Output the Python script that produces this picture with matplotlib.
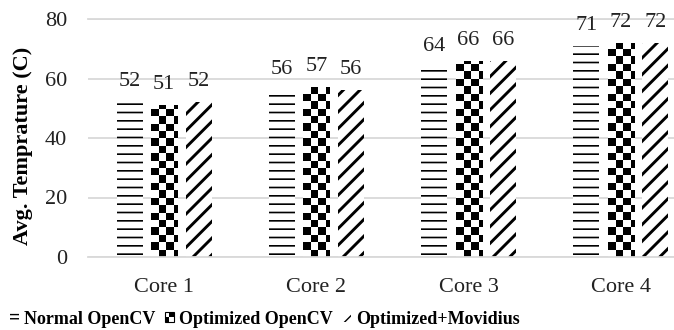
import math
import numpy as np
import matplotlib
matplotlib.use("Agg")
import matplotlib.pyplot as plt
from matplotlib.patches import Rectangle
from matplotlib.legend_handler import HandlerBase

# Data
categories = ["Core 1", "Core 2", "Core 3", "Core 4"]
normal_opencv = [52, 56, 64, 71]
optimized_opencv = [51, 57, 66, 72]
optimized_movidius = [52, 56, 66, 72]
series_names = ["Normal OpenCV", "Optimized OpenCV", "Optimized+Movidius"]
y_ticks = [0, 20, 40, 60, 80]

plt.rcParams["font.family"] = ["Liberation Serif", "DejaVu Serif"]

W, H = 674, 330
fig = plt.figure(figsize=(W / 100, H / 100), dpi=100)
ax = fig.add_axes([88 / W, 1 - 257 / H, (697 - 88) / W, (257 - 19) / H])
ax.set_xlim(-0.5, len(categories) - 0.5)
ax.set_ylim(0, 80)

x = np.arange(len(categories))
bw = 0.171
pitch = 0.226

# Normal OpenCV: horizontal lines
with plt.rc_context({"hatch.linewidth": 1.2}):
    b1 = ax.bar(x - pitch, normal_opencv, bw, facecolor="white",
                edgecolor="black", linewidth=0, hatch="--", zorder=2)

# Optimized OpenCV: checkerboard fill clipped to each bar
b2 = ax.bar(x, optimized_opencv, bw, facecolor="white",
            edgecolor="none", linewidth=0, zorder=2)
t0 = ax.transData.transform((0, 0))
px_x = ax.transData.transform((1, 0))[0] - t0[0]
px_y = ax.transData.transform((0, 1))[1] - t0[1]
cell = 7.4
cw, ch = cell / px_x, cell / px_y
for rect in b2:
    x0, w, h = rect.get_x(), rect.get_width(), rect.get_height()
    nc, nr = math.ceil(w / cw), math.ceil(h / ch)
    board = (np.add.outer(np.arange(nr), np.arange(nc)) % 2).astype(float)
    im = ax.imshow(board, cmap="gray_r", vmin=0, vmax=1, origin="lower",
                   extent=(x0, x0 + nc * cw, 0, nr * ch), aspect="auto",
                   interpolation="nearest", zorder=2.5)
    im.set_clip_path(rect)

# Optimized+Movidius: thick diagonal lines
with plt.rc_context({"hatch.linewidth": 2.1}):
    b3 = ax.bar(x + pitch, optimized_movidius, bw, facecolor="white",
                edgecolor="black", linewidth=0, hatch="//", zorder=2)

ax.set_xlim(-0.5, len(categories) - 0.5)
ax.set_ylim(0, 80)

# Value labels
for bars, vals in ((b1, normal_opencv), (b2, optimized_opencv), (b3, optimized_movidius)):
    for rect, v in zip(bars, vals):
        ax.annotate(f"{v}", (rect.get_x() + rect.get_width() / 2, v),
                    xytext=(0, 11.5), textcoords="offset points",
                    ha="center", va="baseline", fontsize=16, color="#222222",
                    annotation_clip=False)

# Axes styling
grid_c = "#d9d9d9"
ax.set_yticks(y_ticks)
ax.yaxis.grid(True, color=grid_c, linewidth=1.3)
ax.set_axisbelow(True)
for s in ("left", "right"):
    ax.spines[s].set_visible(False)
for s in ("top", "bottom"):
    ax.spines[s].set_color(grid_c)
    ax.spines[s].set_linewidth(1.3)
ax.set_xticks(x)
ax.set_xticklabels(categories)
ax.tick_params(axis="x", length=0, pad=15, labelsize=16, labelcolor="#222222")
ax.tick_params(axis="y", length=0, pad=15, labelsize=16, labelcolor="#222222")

fig.text(23 / W, 1 - 146 / H, "Avg. Temprature (C)", rotation=90,
         ha="center", va="center", fontsize=16, fontweight="bold")


class CheckerHandler(HandlerBase):
    def create_artists(self, legend, orig_handle, xdescent, ydescent,
                       width, height, fontsize, trans):
        arts = []
        n = 2
        sw, sh = width / n, height / n
        for i in range(n):
            for j in range(n):
                fc = "black" if (i + j) % 2 == 0 else "white"
                r = Rectangle((-xdescent + j * sw, -ydescent + i * sh), sw, sh,
                              facecolor=fc, edgecolor="none", transform=trans)
                arts.append(r)
        frame = Rectangle((-xdescent, -ydescent), width, height, facecolor="none",
                          edgecolor="black", linewidth=0.8, transform=trans)
        arts.append(frame)
        return arts


with plt.rc_context({"hatch.linewidth": 1.3}):
    h1 = Rectangle((0, 0), 1, 1, facecolor="white", edgecolor="black",
                   linewidth=0, hatch="----")
h2 = Rectangle((0, 0), 1, 1, facecolor="black")
with plt.rc_context({"hatch.linewidth": 2.0}):
    h3 = Rectangle((0, 0), 1, 1, facecolor="white", edgecolor="black",
                   linewidth=0, hatch="//")

fig.legend([h1, h2, h3], series_names, loc="center left",
           bbox_to_anchor=(10 / W, 1 - 319 / H), ncol=3, frameon=False,
           prop={"weight": "bold", "size": 13}, handlelength=0.5,
           handleheight=0.5, handletextpad=0.3, columnspacing=0.5,
           borderpad=0, borderaxespad=0,
           handler_map={h2: CheckerHandler()})

fig.savefig("out.png", dpi=100)
